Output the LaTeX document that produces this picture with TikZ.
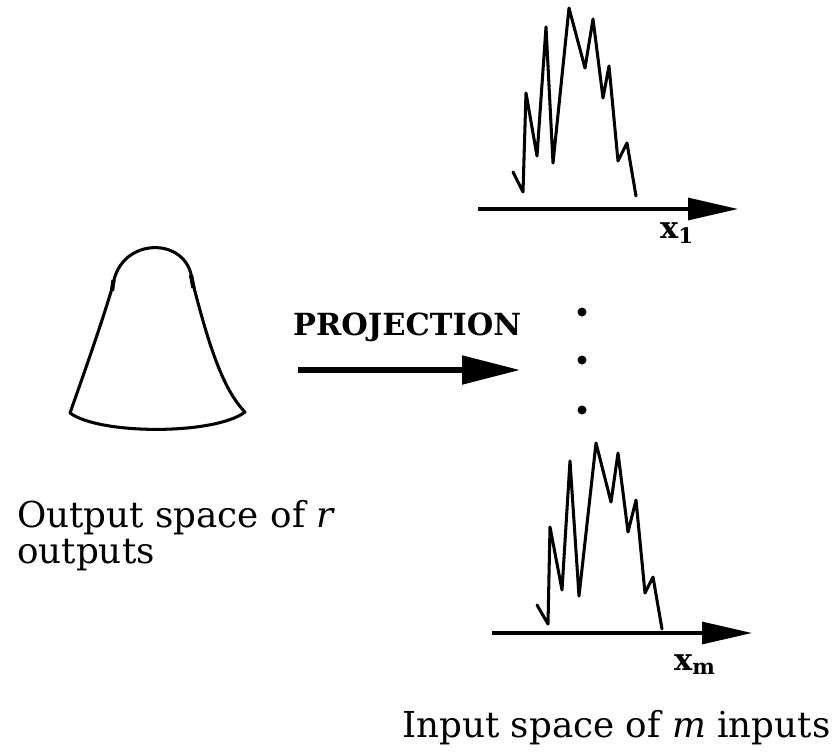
\documentclass[tikz,border=0pt]{standalone}
\usepackage{fontspec}
\setmainfont{DejaVu Serif}
\usetikzlibrary{arrows.meta}

\begin{document}
\begin{tikzpicture}[x=0.03cm,y=-0.03cm,
	curve/.style={line width=2.6pt,line join=round,line cap=round},
	axis/.style={line width=2.6pt,-{Triangle[length=1.5cm,width=0.66cm]}},
	bigarrow/.style={line width=4.4pt,-{Triangle[length=1.74cm,width=0.84cm]}},
	spacetext/.style={font=\fontsize{30.5}{31}\selectfont,inner sep=0pt},
	axistext/.style={font=\fontsize{26}{28}\selectfont\bfseries,inner sep=0pt},
	dot/.style={circle,fill,inner sep=0pt,minimum size=0.27cm}]
	\useasboundingbox (0,0) rectangle (837,751);
	% output space
	\draw[curve] (70,413) .. controls (88,362) and (102,322) .. (113,285)
		.. controls (120,236) and (188,236) .. (192,280)
		.. controls (205,330) and (220,387) .. (245,412)
		.. controls (215,435) and (100,435) .. (70,413) -- cycle;
	\draw[line width=3.6pt] (113.5,280) -- (112,291);
	\draw[line width=3.6pt] (191,275) -- (193.5,288);
	\node[spacetext,anchor=north west,align=left] (outtxt) at (17,500)
		{Output space of \textit{r}\\outputs};
	% projection
	\coordinate (pstart) at (298,370);
	\coordinate (pend) at (520,370);
	\draw[bigarrow] (pstart) -- (pend);
	\node[font=\fontsize{26}{28}\selectfont\bfseries,inner sep=0pt,anchor=base west] (proj) at (293,335) {PROJECTION};
	% input spaces
	\draw[curve] plot coordinates {(513,172) (523,192) (526,93) (537,156) (546,27) (553,163) (569,8)
		(585,68) (593,19) (603,98) (609,66) (618,161) (627,143) (636,196)};
	\coordinate (a1) at (478,209);
	\coordinate (b1) at (738,209);
	\draw[axis] (a1) -- (b1);
	\node[axistext,anchor=base west] (x1) at (660,238) {x\textsubscript{1}};
	\node[dot] (d1) at (582,312) {};
	\node[dot] (d2) at (582,360) {};
	\node[dot] (d3) at (582,410) {};
	\draw[curve] plot coordinates {(537,605) (548,624) (550,527) (562,590) (570,461) (579,596) (596,443)
		(611,502) (618,453) (628,532) (636,500) (645,593) (653,577) (662,629)};
	\coordinate (am) at (492,633);
	\coordinate (bm) at (752,633);
	\draw[axis] (am) -- (bm);
	\node[axistext,anchor=base west] (xm) at (674,670) {x\textsubscript{m}};
	\node[spacetext,anchor=base west] (intxt) at (402,737) {Input space of \textit{m} inputs};
\end{tikzpicture}
\end{document}
